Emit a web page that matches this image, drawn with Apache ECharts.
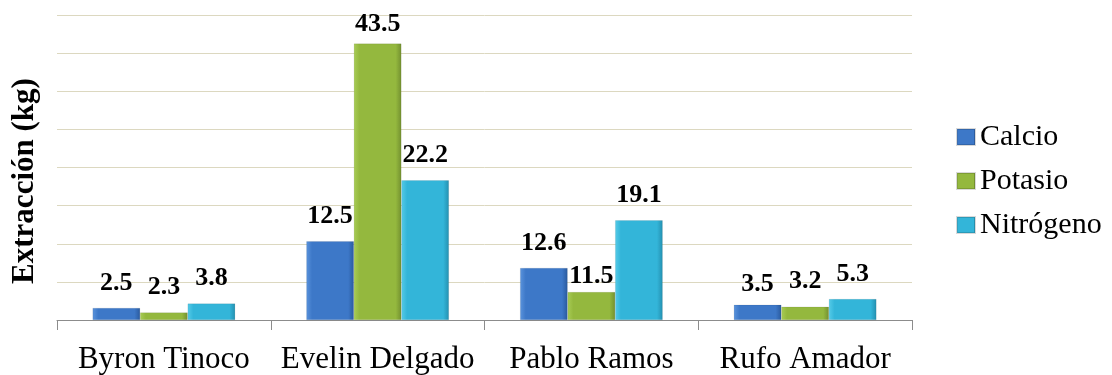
<!DOCTYPE html>
<html>
<head>
<meta charset="utf-8">
<script src="https://cdn.jsdelivr.net/npm/echarts@6/dist/echarts.min.js"></script>
<style>
html,body{margin:0;padding:0;background:#fff;}
#chart{width:1112px;height:375px;}
</style>
</head>
<body>
<div id="chart"></div>
<script>
// Categories
var categories = ['Byron Tinoco', 'Evelin Delgado', 'Pablo Ramos', 'Rufo Amador'];
// Bar heights as drawn in the picture (kg)
var calcioValues = [1.9, 12.4, 8.2, 2.4];
var potasioValues = [1.2, 43.5, 4.4, 2.1];
var nitrogenoValues = [2.6, 22.0, 15.7, 3.3];
// Printed data labels
var calcioLabels = ['2.5', '12.5', '12.6', '3.5'];
var potasioLabels = ['2.3', '43.5', '11.5', '3.2'];
var nitrogenoLabels = ['3.8', '22.2', '19.1', '5.3'];
// Axis settings
var yMin = 0, yMax = 48, yInterval = 6;

var serif = '"Liberation Serif", "DejaVu Serif", serif';

function grad(light, mid, dark) {
  return new echarts.graphic.LinearGradient(0, 0, 1, 0, [
    {offset: 0, color: light},
    {offset: 0.12, color: mid},
    {offset: 0.88, color: mid},
    {offset: 1, color: dark}
  ]);
}

// label distance tweaks (series index - category index)
var labelNudge = {'1-1': 6, '1-2': 3, '0-3': 7};

function buildSeries(name, idx, values, labels, color) {
  return {
    name: name,
    type: 'bar',
    barGap: 0,
    barCategoryGap: '33.3%',
    itemStyle: {color: color, borderColor: 'rgba(0,0,0,0.15)', borderWidth: 0.5},
    label: {
      show: true,
      position: 'top',
      distance: 12,
      color: '#000',
      fontFamily: serif,
      fontWeight: 'bold',
      fontSize: 26,
      formatter: function (p) { return labels[p.dataIndex]; }
    },
    data: values.map(function (v, i) {
      var d = {value: v};
      var k = idx + '-' + i;
      if (labelNudge[k] !== undefined) d.label = {distance: labelNudge[k]};
      return d;
    })
  };
}

var chart = echarts.init(document.getElementById('chart'), null, {renderer: 'canvas'});
chart.setOption({
  animation: false,
  backgroundColor: '#fff',
  color: ['#3d78c8', '#94b83e', '#33b5d9'],
  grid: {left: 57, right: 200, top: 15, bottom: 54, containLabel: false},
  legend: {
    orient: 'vertical',
    left: 956,
    top: 122,
    padding: 0,
    itemWidth: 18,
    itemHeight: 16,
    itemGap: 14,
    icon: 'rect',
    textStyle: {fontFamily: serif, fontSize: 30, color: '#000'},
    data: ['Calcio', 'Potasio', 'Nitrógeno']
  },
  xAxis: {
    type: 'category',
    data: categories,
    axisLine: {lineStyle: {color: '#8c8c8c', width: 1}},
    axisTick: {show: true, length: 10, lineStyle: {color: '#8c8c8c'}},
    axisLabel: {interval: 0, fontFamily: serif, fontSize: 31, color: '#000', margin: 24}
  },
  yAxis: {
    type: 'value',
    min: yMin,
    max: yMax,
    interval: yInterval,
    axisLine: {show: false},
    axisTick: {show: false},
    axisLabel: {show: false},
    splitLine: {lineStyle: {color: '#dcd8c0', width: 1}}
  },
  graphic: [{
    type: 'text',
    x: 25,
    y: 181,
    rotation: Math.PI / 2,
    style: {
      text: 'Extracción (kg)',
      fontFamily: serif,
      fontWeight: 'bold',
      fontSize: 31,
      fill: '#000',
      textAlign: 'center',
      textVerticalAlign: 'middle'
    }
  }],
  series: [
    buildSeries('Calcio', 0, calcioValues, calcioLabels, grad('#5a93dc', '#3d78c8', '#2a5a9e')),
    buildSeries('Potasio', 1, potasioValues, potasioLabels, grad('#a8cc55', '#94b83e', '#739030')),
    buildSeries('Nitrógeno', 2, nitrogenoValues, nitrogenoLabels, grad('#55cbe8', '#33b5d9', '#2490b0'))
  ]
});
</script>
</body>
</html>
